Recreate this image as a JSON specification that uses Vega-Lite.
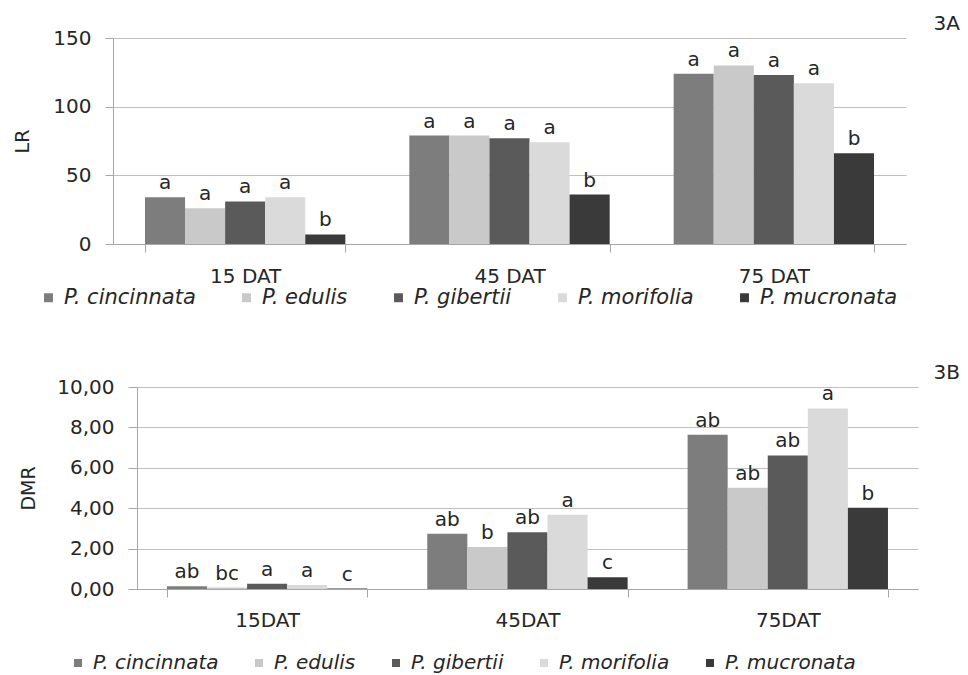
{
  "$schema": "https://vega.github.io/schema/vega-lite/v6.json",
  "background": "white",
  "padding": {"left": 13, "top": 14, "right": 2, "bottom": 0},
  "config": {
    "font": "DejaVu Sans",
    "view": {"stroke": null},
    "axis": {
      "labelFont": "DejaVu Sans", "labelFontSize": 20, "labelColor": "#262626",
      "titleFont": "DejaVu Sans", "titleFontSize": 19, "titleFontWeight": "normal", "titleColor": "#262626",
      "domainColor": "#a6a6a6", "tickColor": "#a6a6a6", "gridColor": "#bfbfbf"
    },
    "legend": {"labelFont": "DejaVu Sans", "labelColor": "#262626"}
  },
  "datasets": {
    "lr": [
      {"time": "15 DAT", "species": "P. cincinnata", "value": 34, "letter": "a"},
      {"time": "15 DAT", "species": "P. edulis", "value": 26, "letter": "a"},
      {"time": "15 DAT", "species": "P. gibertii", "value": 31, "letter": "a"},
      {"time": "15 DAT", "species": "P. morifolia", "value": 34, "letter": "a"},
      {"time": "15 DAT", "species": "P. mucronata", "value": 7, "letter": "b"},
      {"time": "45 DAT", "species": "P. cincinnata", "value": 79, "letter": "a"},
      {"time": "45 DAT", "species": "P. edulis", "value": 79, "letter": "a"},
      {"time": "45 DAT", "species": "P. gibertii", "value": 77, "letter": "a"},
      {"time": "45 DAT", "species": "P. morifolia", "value": 74, "letter": "a"},
      {"time": "45 DAT", "species": "P. mucronata", "value": 36, "letter": "b"},
      {"time": "75 DAT", "species": "P. cincinnata", "value": 124, "letter": "a"},
      {"time": "75 DAT", "species": "P. edulis", "value": 130, "letter": "a"},
      {"time": "75 DAT", "species": "P. gibertii", "value": 123, "letter": "a"},
      {"time": "75 DAT", "species": "P. morifolia", "value": 117, "letter": "a"},
      {"time": "75 DAT", "species": "P. mucronata", "value": 66, "letter": "b"}
    ],
    "dmr": [
      {"time": "15DAT", "species": "P. cincinnata", "value": 0.13, "letter": "ab"},
      {"time": "15DAT", "species": "P. edulis", "value": 0.07, "letter": "bc"},
      {"time": "15DAT", "species": "P. gibertii", "value": 0.26, "letter": "a"},
      {"time": "15DAT", "species": "P. morifolia", "value": 0.2, "letter": "a"},
      {"time": "15DAT", "species": "P. mucronata", "value": 0.02, "letter": "c"},
      {"time": "45DAT", "species": "P. cincinnata", "value": 2.74, "letter": "ab"},
      {"time": "45DAT", "species": "P. edulis", "value": 2.08, "letter": "b"},
      {"time": "45DAT", "species": "P. gibertii", "value": 2.81, "letter": "ab"},
      {"time": "45DAT", "species": "P. morifolia", "value": 3.67, "letter": "a"},
      {"time": "45DAT", "species": "P. mucronata", "value": 0.58, "letter": "c"},
      {"time": "75DAT", "species": "P. cincinnata", "value": 7.64, "letter": "ab"},
      {"time": "75DAT", "species": "P. edulis", "value": 5.01, "letter": "ab"},
      {"time": "75DAT", "species": "P. gibertii", "value": 6.61, "letter": "ab"},
      {"time": "75DAT", "species": "P. morifolia", "value": 8.94, "letter": "a"},
      {"time": "75DAT", "species": "P. mucronata", "value": 4.02, "letter": "b"}
    ]
  },
  "resolve": {"scale": {"color": "independent"}, "legend": {"color": "independent"}},
  "spacing": 55,
  "vconcat": [
    {
      "width": 793,
      "height": 206,
      "data": {"name": "lr"},
      "title": {"text": "3A", "anchor": "end", "frame": "group", "dx": 54, "offset": -6, "fontSize": 20, "fontWeight": "normal", "color": "#262626", "font": "DejaVu Sans"},
      "encoding": {
        "x": {
          "field": "time", "type": "nominal", "sort": ["15 DAT", "45 DAT", "75 DAT"],
          "scale": {"paddingInner": 0.242, "paddingOuter": 0.121},
          "axis": {"title": null, "labelAngle": 0, "tickBand": "extent", "tickSize": 8, "labelPadding": 14}
        },
        "xOffset": {
          "field": "species", "type": "nominal",
          "sort": ["P. cincinnata", "P. edulis", "P. gibertii", "P. morifolia", "P. mucronata"],
          "scale": {"paddingInner": 0, "paddingOuter": 0}
        },
        "y": {
          "field": "value", "type": "quantitative",
          "scale": {"domain": [0, 150]},
          "axis": {"title": "LR", "values": [0, 50, 100, 150], "tickSize": 8, "labelPadding": 14, "titlePadding": 20, "grid": true}
        }
      },
      "layer": [
        {
          "mark": {"type": "bar"},
          "encoding": {
            "color": {
              "field": "species", "type": "nominal",
              "scale": {
                "domain": ["P. cincinnata", "P. edulis", "P. gibertii", "P. morifolia", "P. mucronata"],
                "range": ["#7d7d7d", "#c9c9c9", "#5a5a5a", "#dadada", "#3a3a3a"]
              },
              "legend": {
                "title": null, "orient": "none", "legendX": -75, "legendY": 249,
                "direction": "horizontal", "columns": 5, "symbolType": "square", "symbolSize": 80,
                "symbolStrokeWidth": 0, "labelFontSize": 21, "labelFontStyle": "italic",
                "columnPadding": 40, "labelOffset": 5
              }
            }
          }
        },
        {
          "mark": {"type": "text", "baseline": "bottom", "dy": -4, "fontSize": 20, "color": "#262626", "font": "DejaVu Sans"},
          "encoding": {"text": {"field": "letter"}}
        }
      ]
    },
    {
      "width": 805,
      "height": 202,
      "data": {"name": "dmr"},
      "title": {"text": "3B", "anchor": "end", "frame": "group", "dx": 42, "offset": -6, "fontSize": 20, "fontWeight": "normal", "color": "#262626", "font": "DejaVu Sans"},
      "encoding": {
        "x": {
          "field": "time", "type": "nominal", "sort": ["15DAT", "45DAT", "75DAT"],
          "scale": {"paddingInner": 0.23, "paddingOuter": 0.115, "range": [24, 805]},
          "axis": {"title": null, "labelAngle": 0, "tickBand": "extent", "tickSize": 8, "labelPadding": 13}
        },
        "xOffset": {
          "field": "species", "type": "nominal",
          "sort": ["P. cincinnata", "P. edulis", "P. gibertii", "P. morifolia", "P. mucronata"],
          "scale": {"paddingInner": 0, "paddingOuter": 0}
        },
        "y": {
          "field": "value", "type": "quantitative",
          "scale": {"domain": [0, 10]},
          "axis": {"title": "DMR", "offset": -24, "values": [0, 2, 4, 6, 8, 10], "labelExpr": "replace(format(datum.value, '.2f'), '.', ',')", "tickSize": 9, "labelPadding": 14, "titlePadding": 18, "grid": true}
        }
      },
      "layer": [
        {
          "mark": {"type": "bar"},
          "encoding": {
            "color": {
              "field": "species", "type": "nominal",
              "scale": {
                "domain": ["P. cincinnata", "P. edulis", "P. gibertii", "P. morifolia", "P. mucronata"],
                "range": ["#7d7d7d", "#c9c9c9", "#5a5a5a", "#dadada", "#3a3a3a"]
              },
              "legend": {
                "title": null, "orient": "none", "legendX": -45, "legendY": 266,
                "direction": "horizontal", "columns": 5, "symbolType": "square", "symbolSize": 64,
                "symbolStrokeWidth": 0, "labelFontSize": 20, "labelFontStyle": "italic",
                "columnPadding": 30, "labelOffset": 5
              }
            }
          }
        },
        {
          "mark": {"type": "text", "baseline": "bottom", "dy": -4, "fontSize": 20, "color": "#262626", "font": "DejaVu Sans"},
          "encoding": {"text": {"field": "letter"}}
        }
      ]
    }
  ]
}
